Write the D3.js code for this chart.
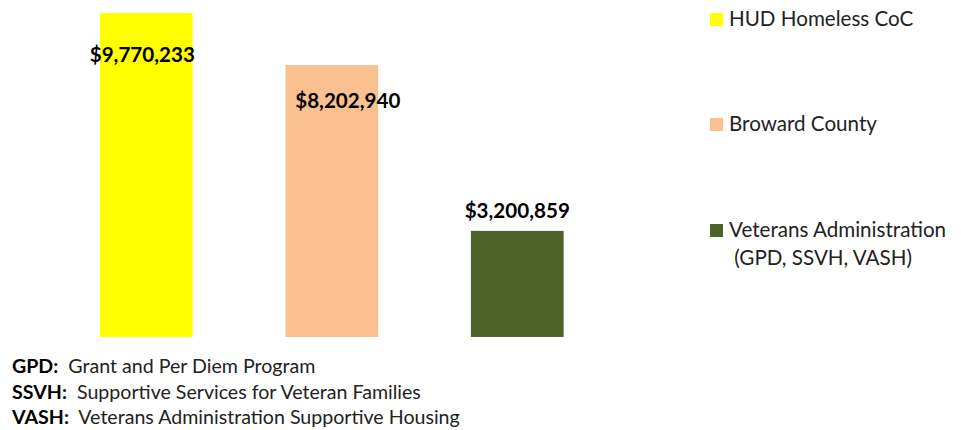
<!DOCTYPE html>
<meta charset="utf-8">
<style>
body { margin:0; background:#fff; }
svg { display:block; font-family: Lato, "Open Sans", sans-serif; }
.val { font-weight:bold; font-size:20.6px; fill:#000; }
.leg { font-size:20.6px; fill:#222; }
.note { font-size:19.6px; fill:#222; }
.note tspan.b { font-weight:bold; fill:#000; }
</style>
<body>
<svg width="961" height="430" id="vis"></svg>
<script src="https://d3js.org/d3.v7.min.js"></script>
<script>
var sources = ["HUD Homeless CoC", "Broward County", "Veterans Administration"];
var amounts = [9770233, 8202940, 3200859];
var colours = ["#ffff00", "#fac090", "#4f6228"];
var legendLines = [["HUD Homeless CoC"], ["Broward County"], ["Veterans Administration", " (GPD, SSVH, VASH)"]];
var notes = [["GPD:", "  Grant and Per Diem Program"],
             ["SSVH:", "  Supportive Services for Veteran Families"],
             ["VASH:", "  Veterans Administration Supportive Housing"]];

var svg = d3.select("#vis");

var x = d3.scaleBand().domain(sources).range([53.6, 610]).paddingInner(0.5).paddingOuter(0.25);
var y = d3.scaleLinear().domain([0, d3.max(amounts)]).range([337, 13]);

var fmt = d3.format("$,");

// label placement tweak per bar (inside for tall bars, above for the short one)
var labelDx = [-4, 16, 0];
var labelDy = [49, 43, -13];

svg.selectAll("rect.bar").data(sources).enter().append("rect")
    .attr("class", "bar")
    .attr("x", function(d){ return x(d); })
    .attr("width", x.bandwidth())
    .attr("y", function(d, i){ return y(amounts[i]); })
    .attr("height", function(d, i){ return y(0) - y(amounts[i]); })
    .style("fill", function(d, i){ return colours[i]; });

svg.selectAll("text.val").data(sources).enter().append("text")
    .attr("class", "val")
    .attr("text-anchor", "middle")
    .attr("x", function(d, i){ return x(d) + x.bandwidth()/2 + labelDx[i]; })
    .attr("y", function(d, i){ return y(amounts[i]) + labelDy[i]; })
    .text(function(d, i){ return fmt(amounts[i]); });

// legend
var legY = [13, 118, 224];
var leg = svg.selectAll("g.legend").data(sources).enter().append("g")
    .attr("class", "legend")
    .attr("transform", function(d, i){ return "translate(710," + legY[i] + ")"; });
leg.append("rect").attr("width", 13).attr("height", 13)
    .style("fill", function(d, i){ return colours[i]; });
leg.each(function(d, i){
  var t = d3.select(this).append("text").attr("class", "leg").attr("x", 19).attr("y", 13);
  legendLines[i].forEach(function(line, j){
    t.append("tspan").attr("x", 19).attr("dy", j ? 28 : 0).attr("xml:space", "preserve").text(line);
  });
});

// footnotes
var noteText = svg.selectAll("text.note").data(notes).enter().append("text")
    .attr("class", "note")
    .attr("x", 12)
    .attr("y", function(d, i){ return 373 + i * 25.5; })
    .attr("xml:space", "preserve");
noteText.append("tspan").attr("class", "b").text(function(d){ return d[0]; });
noteText.append("tspan").text(function(d){ return d[1]; });
</script>
</body>
